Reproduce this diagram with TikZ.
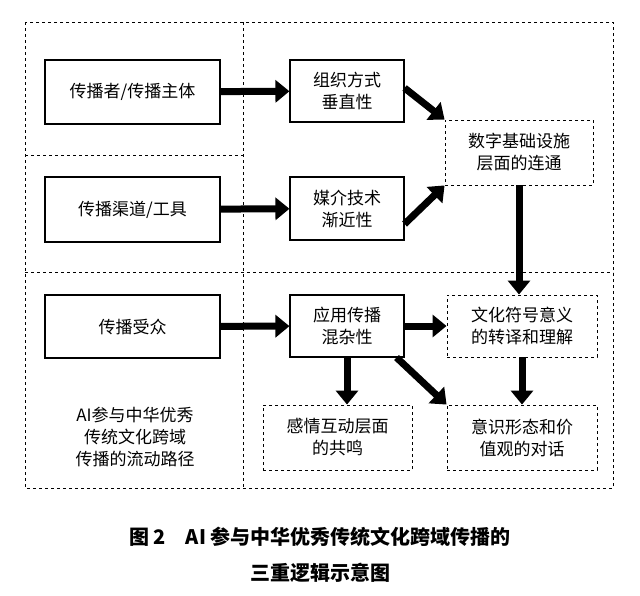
\documentclass[tikz,border=0pt]{standalone}
\usepackage{fontspec}
\setmainfont{Noto Sans CJK SC}
\usetikzlibrary{arrows.meta}
\begin{document}
\begin{tikzpicture}[x=1pt,y=-1pt,
  sbox/.style={draw,line width=1.1pt,minimum width=#1,align=center,font=\fontsize{17}{22}\selectfont,inner sep=0pt},
  dbox/.style={draw,dashed,line width=0.9pt,minimum width=#1,align=center,font=\fontsize{17}{22}\selectfont,inner sep=0pt},
  dl/.style={dashed,line width=0.9pt},
  arr/.style={line width=7pt,-{Triangle[length=14pt,width=22pt]}}]
\useasboundingbox (0,0) rectangle (640,595);
\draw[dl] (25,22) rectangle (613,488);
\draw[dl] (243,22) -- (243,488);
\draw[dl] (25,155) -- (243,155);
\draw[dl] (25,272) -- (613,272);
\node[sbox=175pt,minimum height=64pt] (a1) at (132.5,92) {传播者/传播主体};
\node[sbox=175pt,minimum height=65pt] (a2) at (132.5,209.5) {传播渠道/工具};
\node[sbox=175pt,minimum height=63pt] (a3) at (132.5,326.5) {传播受众};
\node[sbox=114pt,minimum height=62pt] (b1) at (347,91) {组织方式\\垂直性};
\node[sbox=114pt,minimum height=63pt] (b2) at (347,208.5) {媒介技术\\渐近性};
\node[sbox=114pt,minimum height=62pt] (b3) at (347,326) {应用传播\\混杂性};
\node[dbox=148pt,minimum height=65pt] (c1) at (519,152.5) {数字基础设施\\层面的连通};
\node[dbox=150pt,minimum height=62pt] (c2) at (522,326) {文化符号意义\\的转译和理解};
\node[dbox=149pt,minimum height=65pt] (d1) at (337.5,437.5) {感情互动层面\\的共鸣};
\node[dbox=150pt,minimum height=65pt] (d2) at (522,437.5) {意识形态和价\\值观的对话};
\node[align=center,font=\fontsize{17}{22}\selectfont] (t) at (135,437) {AI参与中华优秀\\传统文化跨域\\传播的流动路径};
\draw[arr] (a1) -- (b1);
\draw[arr] (a2) -- (b2);
\draw[arr] (a3) -- (b3);
\draw[arr] (b1.east|-0,88) -- (c1.north west);
\draw[arr] (b2.east|-0,224) -- (c1.south west);
\draw[arr] (c1.south) -- (c1.south|-c2.north);
\draw[arr] (b3) -- (c2);
\draw[arr] (b3.south) -- (b3.south|-d1.north);
\draw[arr] (b3.south east)++(-8,0) -- (d2.north west);
\draw[arr] (c2.south) -- (d2.north);
\node[font=\fontsize{20}{24}\selectfont\bfseries] (cap1) at (320,537) {图 2\quad AI 参与中华优秀传统文化跨域传播的};
\node[font=\fontsize{20}{24}\selectfont\bfseries] (cap2) at (320,573) {三重逻辑示意图};
\end{tikzpicture}
\end{document}
